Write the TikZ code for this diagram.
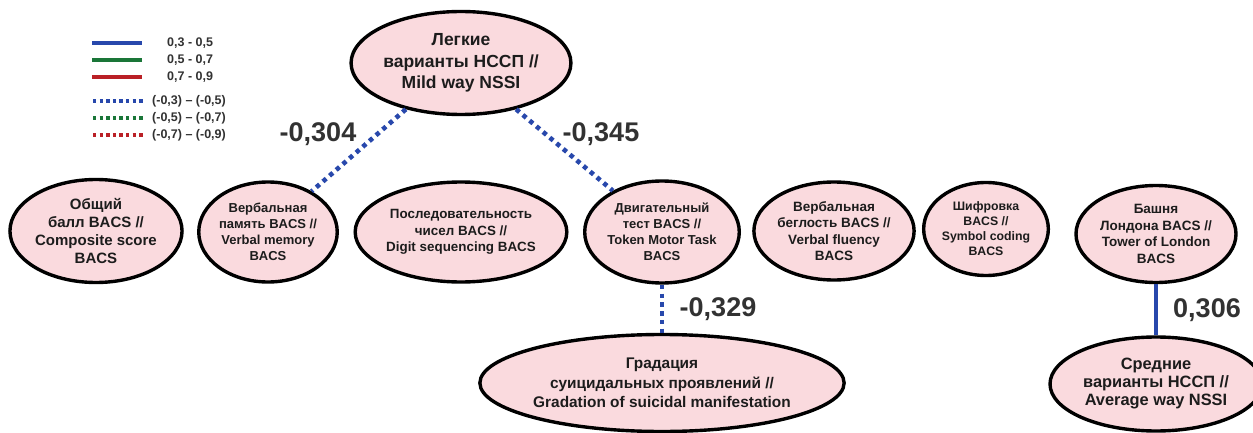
\documentclass[tikz,border=0pt]{standalone}
\usepackage{fontspec}
\setmainfont{Liberation Sans}
\usetikzlibrary{shapes.geometric}
\definecolor{pinkfill}{RGB}{250,218,222}
\definecolor{txt}{RGB}{28,28,28}
\definecolor{lbl}{RGB}{50,50,50}
\definecolor{cblue}{RGB}{40,72,172}
\definecolor{cgreen}{RGB}{26,118,56}
\definecolor{cred}{RGB}{186,32,38}
\tikzset{
  oval/.style={ellipse, draw=black, line width=3.4pt, fill=pinkfill, inner sep=0pt,
    align=center, text=txt, font=\bfseries},
  poslink/.style={line width=4pt, cblue},
  neglink/.style={line width=4.6pt, cblue, dash pattern=on 4.4pt off 4.4pt},
  corr/.style={text=lbl, font=\fontsize{27}{30}\selectfont\bfseries, inner sep=0pt},
  legline/.style={line width=4pt},
  legdot/.style={line width=3.6pt, dash pattern=on 3.4pt off 3.2pt},
  legtxt/.style={anchor=west, inner sep=0pt, text=lbl, font=\fontsize{12.5}{14}\selectfont\bfseries}
}
\begin{document}
\begin{tikzpicture}[x=1pt,y=-1pt]
\useasboundingbox[fill=white] (0,0) rectangle (1253,433);

% legend
\coordinate (l1a) at (92,43);  \coordinate (l1b) at (142,43);
\coordinate (l2a) at (92,60);  \coordinate (l2b) at (142,60);
\coordinate (l3a) at (92,77);  \coordinate (l3b) at (142,77);
\coordinate (l4a) at (93,101); \coordinate (l4b) at (144,101);
\coordinate (l5a) at (93,118); \coordinate (l5b) at (144,118);
\coordinate (l6a) at (93,135); \coordinate (l6b) at (144,135);
\draw[legline, cblue] (l1a) -- (l1b);
\draw[legline, cgreen] (l2a) -- (l2b);
\draw[legline, cred] (l3a) -- (l3b);
\draw[legdot, cblue] (l4a) -- (l4b);
\draw[legdot, cgreen] (l5a) -- (l5b);
\draw[legdot, cred] (l6a) -- (l6b);
\node[legtxt] (t1) at (167,43) {0,3 - 0,5};
\node[legtxt] (t2) at (167,60) {0,5 - 0,7};
\node[legtxt] (t3) at (167,77) {0,7 - 0,9};
\node[legtxt] (t4) at (152,101) {(-0,3) -- (-0,5)};
\node[legtxt] (t5) at (152,118) {(-0,5) -- (-0,7)};
\node[legtxt] (t6) at (152,135) {(-0,7) -- (-0,9)};

% nodes
\node[oval, minimum width=212pt, minimum height=103pt, font=\fontsize{17.5}{21.5}\selectfont\bfseries] (top) at (461,63)
  {Легкие\\варианты НССП //\\Mild way NSSI};
\node[oval, minimum width=172pt, minimum height=103pt, font=\fontsize{15}{18}\selectfont\bfseries] (comp) at (96,231)
  {Общий\\балл BACS //\\Composite score\\BACS};
\node[oval, minimum width=132pt, minimum height=100pt, font=\fontsize{13}{16}\selectfont\bfseries] (vm) at (268,232)
  {Вербальная\\память BACS //\\Verbal memory\\BACS};
\node[oval, minimum width=210pt, minimum height=100pt, font=\fontsize{13.4}{16.5}\selectfont\bfseries] (ds) at (461,232)
  {Последовательность\\чисел BACS //\\Digit sequencing BACS};
\node[oval, minimum width=153pt, minimum height=102pt, font=\fontsize{13}{16}\selectfont\bfseries] (mt) at (662,232)
  {Двигательный\\тест BACS //\\Token Motor Task\\BACS};
\node[oval, minimum width=155pt, minimum height=98pt, font=\fontsize{13.5}{16.5}\selectfont\bfseries] (vf) at (834,231)
  {Вербальная\\беглость BACS //\\Verbal fluency\\BACS};
\node[oval, minimum width=122pt, minimum height=93pt, font=\fontsize{12.3}{15}\selectfont\bfseries] (sc) at (986,229)
  {Шифровка\\BACS //\\Symbol coding\\BACS};
\node[oval, minimum width=160pt, minimum height=97pt, font=\fontsize{13.5}{16.5}\selectfont\bfseries] (tl) at (1156,234)
  {Башня\\Лондона BACS //\\Tower of London\\BACS};
\node[oval, minimum width=324pt, minimum height=97pt, font=\fontsize{15.4}{19.5}\selectfont\bfseries] (grad) at (662,383)
  {Градация\\суицидальных проявлений //\\Gradation of suicidal manifestation};
\node[oval, minimum width=212pt, minimum height=94pt, font=\fontsize{16.4}{18}\selectfont\bfseries] (avg) at (1156,384)
  {Средние\\варианты НССП //\\Average way NSSI};

% connectors
\draw[neglink] (top.220) -- (vm.43);
\draw[neglink] (top.320) -- (mt.140);
\draw[neglink] (mt.south) -- (grad.north);
\draw[poslink] (tl.south) -- (avg.north);

% correlation labels
\node[corr] (c1) at (318,134) {-0,304};
\node[corr] (c2) at (601,134) {-0,345};
\node[corr] (c3) at (718,309) {-0,329};
\node[corr] (c4) at (1207,310) {0,306};
\end{tikzpicture}
\end{document}
